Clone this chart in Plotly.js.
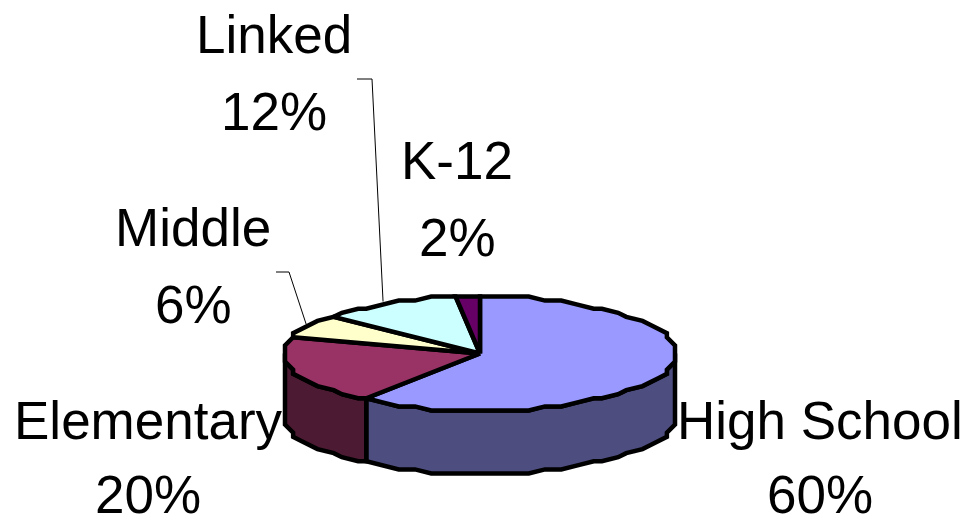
<!DOCTYPE html>
<html>
<head>
<meta charset="utf-8">
<script src="https://cdn.plot.ly/plotly-3.0.1.min.js"></script>
<style>html,body{margin:0;padding:0;background:#fff}#chart{width:971px;height:525px}</style>
</head>
<body>
<div id="chart"></div>
<script>
var categories = ["High School", "Elementary", "Middle", "Linked", "K-12"];
var shares = [60, 20, 6, 12, 2];
var topColors = ["#9999ff", "#993366", "#ffffcc", "#ccffff", "#660066"];
var sideColors = ["#4d4d80", "#4d1a33", "#808066", "#668080", "#330033"];
var labelCentres = [820, 148, 193, 274, 457];
var labelBaselines = [440, 440, 247, 54, 180];
var percentBaselines = [514, 514, 324, 131, 257];

var CX = 480, CY = 353.5, RX = 195, RY = 57, DEPTH = 63, STEP = 5;
var GRID_X = 8.125, GRID_Y = 4.07;
var FONT = 53;

function raw(deg, dy) {
  var a = deg * Math.PI / 180;
  return [CX + RX * Math.sin(a), CY - RY * Math.cos(a) + (dy || 0)];
}
// the reference outline is coarse: vertices sit on a low-resolution grid
function pt(deg, dy) {
  var a = deg * Math.PI / 180;
  return [
    CX + Math.round(RX * Math.sin(a) / GRID_X) * GRID_X,
    CY + Math.round(-RY * Math.cos(a) / GRID_Y) * GRID_Y + (dy || 0)
  ];
}
function arc(from, to, dy) {
  var out = [pt(from, dy)];
  var d = Math.ceil(from / STEP + 1e-6) * STEP;
  for (; d < to; d += STEP) out.push(pt(d, dy));
  out.push(pt(to, dy));
  return out.filter(function (p, i) {
    return i === 0 || p[0] !== out[i - 1][0] || p[1] !== out[i - 1][1];
  });
}
function poly(points, fill) {
  return {
    type: "scatter", mode: "lines", fill: "toself", fillcolor: fill,
    x: points.map(function (p) { return p[0]; }),
    y: points.map(function (p) { return p[1]; }),
    line: { color: "#000", width: 4.5, shape: "linear" },
    hoverinfo: "skip", showlegend: false
  };
}

var edges = [0];
shares.forEach(function (s, i) { edges.push(edges[i] + s * 3.6); });

var traces = [];
shares.forEach(function (s, i) {
  var from = Math.max(edges[i], 90), to = Math.min(edges[i + 1], 270);
  if (to <= from) return;
  var top = arc(from, to, 0), bottom = arc(from, to, DEPTH).reverse();
  var ring = top.concat(bottom); ring.push(top[0]);
  traces.push(poly(ring, sideColors[i]));
});
shares.forEach(function (s, i) {
  var ring = [[CX, CY]].concat(arc(edges[i], edges[i + 1], 0));
  ring.push([CX, CY]);
  traces.push(poly(ring, topColors[i]));
});

function leader(i, elbowX, elbowY, startX) {
  var end = raw((edges[i] + edges[i + 1]) / 2, -2);
  return {
    type: "scatter", mode: "lines", x: [startX, elbowX, end[0] - 3], y: [elbowY, elbowY, end[1]],
    line: { color: "#000", width: 1 }, hoverinfo: "skip", showlegend: false
  };
}
traces.unshift(leader(2, 289, 272, 276));
traces.unshift(leader(3, 372, 79, 357));

var ascentOffset = FONT * 0.36;
function note(text, x, baseline) {
  return {
    text: text, x: x, y: baseline - ascentOffset, xref: "x", yref: "y",
    xanchor: "center", yanchor: "middle", showarrow: false, borderpad: 0,
    font: { family: "Liberation Sans, Arial, sans-serif", size: FONT, color: "#000" }
  };
}
var annotations = [];
categories.forEach(function (c, i) {
  annotations.push(note(c, labelCentres[i], labelBaselines[i]));
  annotations.push(note(shares[i] + "%", labelCentres[i], percentBaselines[i]));
});

Plotly.newPlot("chart", traces, {
  width: 971, height: 525,
  margin: { l: 0, r: 0, t: 0, b: 0 },
  paper_bgcolor: "#fff", plot_bgcolor: "#fff",
  showlegend: false,
  xaxis: { range: [0, 971], visible: false, fixedrange: true },
  yaxis: { range: [525, 0], visible: false, fixedrange: true },
  annotations: annotations
}, { displayModeBar: false, staticPlot: true });
</script>
</body>
</html>
